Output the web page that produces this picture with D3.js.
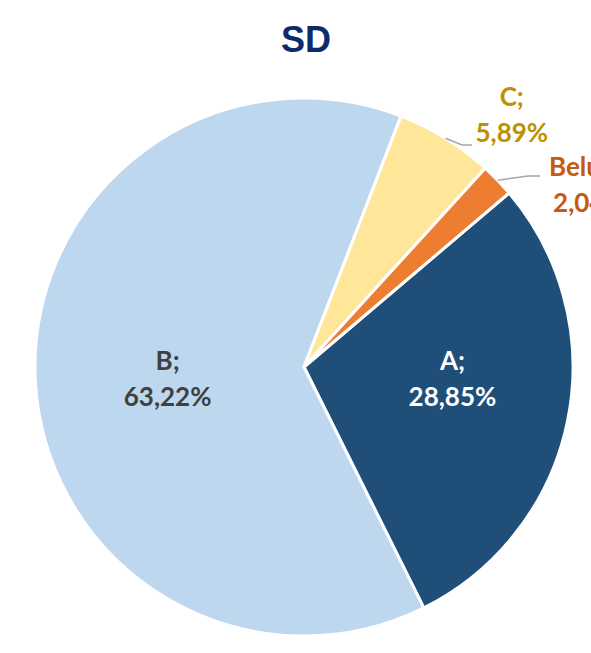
<!DOCTYPE html>
<html>
<head>
<meta charset="utf-8">
<script src="https://cdn.jsdelivr.net/npm/d3@7"></script>
<style>
  body { margin: 0; background: #fff; overflow: hidden; }
  svg { display: block; }
</style>
</head>
<body>
<svg id="chart"></svg>
<script>
var width = 591;
var height = 653;

// data
var categories = ["A", "B", "C", "Belum"];
var shares = [28.85, 63.22, 5.89, 2.04];
var percentLabels = ["28,85%", "63,22%", "5,89%", "2,04%"];

var sliceColors = ["#1f4e79", "#bdd7ee", "#ffe699", "#ed7d31"];
var textColors = ["#ffffff", "#404040", "#bf9000", "#c55a11"];

var cx = 304, cy = 367, radius = 269;
var startAngle = 49.7 * Math.PI / 180;

// label anchor (angle from 12 o'clock, distance from centre) and leader line for outside ones
var labelPos = [
  { angle: 95, dist: 149 },
  { angle: 264.5, dist: 137 },
  { angle: 39.6, dist: 326, elbow: [462, 145], end: 472 },
  { angle: 57.6, dist: 338, elbow: [528, 176], end: 540 }
];

var svg = d3.select("#chart").attr("width", width).attr("height", height);

svg.append("text")
  .attr("x", 306)
  .attr("y", 52)
  .attr("text-anchor", "middle")
  .style("font-family", "'Liberation Sans', Arial, sans-serif")
  .style("font-weight", "bold")
  .style("font-size", "36px")
  .style("fill", "#0d2a6b")
  .text("SD");

var data = categories.map(function (c, i) {
  return { name: c, value: shares[i], label: percentLabels[i], idx: i };
});

var pie = d3.pie()
  .sort(null)
  .value(d => d.value)
  .startAngle(startAngle)
  .endAngle(startAngle + 2 * Math.PI);

var arc = d3.arc().innerRadius(0).outerRadius(radius);

var g = svg.append("g").attr("transform", "translate(" + cx + "," + cy + ")");

var arcs = pie(data);

g.selectAll("path")
  .data(arcs)
  .enter()
  .append("path")
  .attr("d", arc)
  .attr("fill", d => sliceColors[d.data.idx])
  .attr("stroke", "#fff")
  .attr("stroke-width", 3)
  .attr("stroke-linejoin", "round");

// leader lines for outside labels
arcs.forEach(function (d) {
  var p = labelPos[d.data.idx];
  if (!p.elbow) return;
  var mid = (d.startAngle + d.endAngle) / 2;
  var sx = cx + radius * Math.sin(mid);
  var sy = cy - radius * Math.cos(mid);
  svg.append("polyline")
    .attr("points", [[sx, sy], p.elbow, [p.end, p.elbow[1]]].map(q => q.join(",")).join(" "))
    .attr("fill", "none")
    .attr("stroke", "#a6a6a6")
    .attr("stroke-width", 1.5);
});

// labels
arcs.forEach(function (d) {
  var p = labelPos[d.data.idx];
  var a = p.angle * Math.PI / 180;
  var x = cx + p.dist * Math.sin(a);
  var y = cy - p.dist * Math.cos(a);
  var t = svg.append("text")
    .attr("text-anchor", "middle")
    .style("font-family", "Lato, 'Open Sans', sans-serif")
    .style("font-weight", "bold")
    .style("font-size", "26px")
    .style("fill", textColors[d.data.idx]);
  t.append("tspan").attr("x", x).attr("y", y - 10).text(d.data.name + ";");
  t.append("tspan").attr("x", x).attr("y", y + 26).text(d.data.label);
});
</script>
</body>
</html>
